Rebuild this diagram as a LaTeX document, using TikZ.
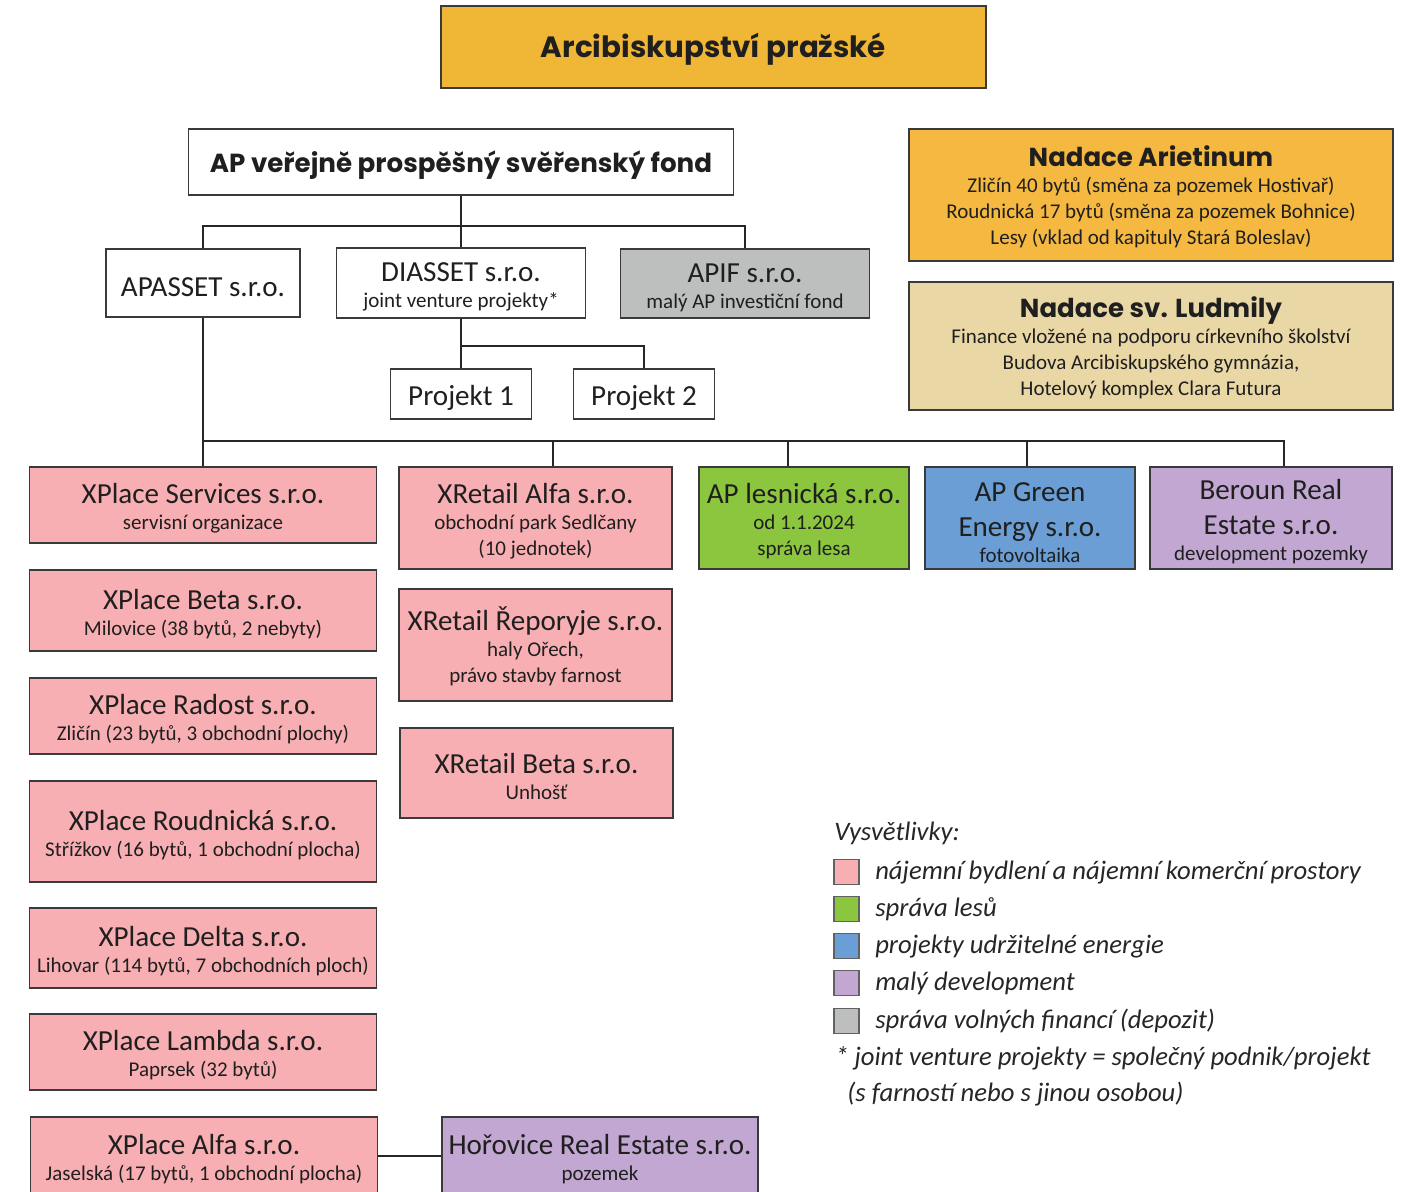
\documentclass[tikz,border=0pt]{standalone}
\usepackage{fontspec}
\setmainfont{Carlito}
\newfontfamily\headfont{Poppins}
\usetikzlibrary{positioning,calc}

\definecolor{arcifill}{HTML}{F0B635}
\definecolor{arietfill}{HTML}{F5B840}
\definecolor{ludfill}{HTML}{E9D8A6}
\definecolor{greyfill}{HTML}{BDBEBE}
\definecolor{pinkfill}{HTML}{F8AFB3}
\definecolor{greenfill}{HTML}{8CC63F}
\definecolor{bluefill}{HTML}{6A9ED5}
\definecolor{lilacfill}{HTML}{C1A7D1}
\definecolor{boxline}{HTML}{3A3A3A}

\newcommand\namesize{\fontsize{21.8}{26.25}\selectfont}
\newcommand\subsize{\fontsize{15.75}{19.5}\selectfont}
\newcommand\headsize[1]{\headfont\bfseries\fontsize{#1}{#1}\selectfont}
% first line of a box: company name with a fixed top
\newcommand\nm[1]{{\namesize\rule{0pt}{20.5pt}#1}}

\tikzset{
  box/.style={draw=boxline,line width=0.9pt,inner sep=0pt,align=center,
    font=\subsize,text=black!88},
  dims/.style 2 args={minimum width=#1*0.75pt,minimum height=#2*0.75pt},
  link/.style={draw=black!85,line width=1.5pt},
  key/.style={draw=boxline!80,line width=0.8pt,minimum size=18.75pt,inner sep=0pt},
  keytext/.style={anchor=base west,inner sep=0pt,
    font=\itshape\fontsize{20}{20}\selectfont,text=black!85}
}

\begin{document}
\begin{tikzpicture}[x=0.75pt,y=-0.75pt]
\clip (0,0) rectangle (1410,1192);

% top
\node[box,dims={545}{82},fill=arcifill,font=\headsize{22}] (arci) at (713.5,47)
  {\rule{0pt}{22pt}Arcibiskupství pražské};
\node[box,dims={545}{66},fill=white,font=\headsize{19.6}] (fond) at (461,162)
  {\rule{0pt}{20.5pt}AP veřejně prospěšný svěřenský fond};

% foundations
\node[box,dims={484}{132},fill=arietfill] (ariet) at (1151,195)
  {{\headsize{19.5}\rule{0pt}{19pt}Nadace Arietinum}\\[0pt]
   Zličín 40 bytů (směna za pozemek Hostivař)\\
   Roudnická 17 bytů (směna za pozemek Bohnice)\\
   Lesy (vklad od kapituly Stará Boleslav)};
\node[box,dims={484}{128},fill=ludfill] (ludmila) at (1151,346)
  {{\headsize{19.5}\rule{0pt}{19pt}Nadace sv. Ludmily}\\[0pt]
   Finance vložené na podporu církevního školství\\
   Budova Arcibiskupského gymnázia,\\
   Hotelový komplex Clara Futura};

% second level
\node[box,dims={194}{68},fill=white] (apasset) at (203,283) {\nm{APASSET s.r.o.}};
\node[box,dims={249}{70},fill=white] (diasset) at (461,283)
  {\nm{DIASSET s.r.o.}\\joint venture projekty*};
\node[box,dims={249}{69},fill=greyfill] (apif) at (745,283.5)
  {\nm{APIF s.r.o.}\\malý AP investiční fond};
\node[box,dims={141}{50},fill=white] (proj1) at (461,394) {\nm{Projekt 1}};
\node[box,dims={141}{50},fill=white] (proj2) at (644,394) {\nm{Projekt 2}};

% left column
\node[box,dims={347}{76},fill=pinkfill] (services) at (203,505)
  {\nm{XPlace Services s.r.o.}\\servisní organizace};
\node[box,dims={347}{81},fill=pinkfill] (xbeta) at (203,610.5)
  {\nm{XPlace Beta s.r.o.}\\Milovice (38 bytů, 2 nebyty)};
\node[box,dims={347}{76},fill=pinkfill] (radost) at (203,716)
  {\nm{XPlace Radost s.r.o.}\\Zličín (23 bytů, 3 obchodní plochy)};
\node[box,dims={347}{101},fill=pinkfill] (roudnicka) at (203,831.5)
  {\nm{XPlace Roudnická s.r.o.}\\Střížkov (16 bytů, 1 obchodní plocha)};
\node[box,dims={347}{80},fill=pinkfill] (delta) at (203,948)
  {\nm{XPlace Delta s.r.o.}\\Lihovar (114 bytů, 7 obchodních ploch)};
\node[box,dims={347}{76},fill=pinkfill] (lambda) at (203,1052)
  {\nm{XPlace Lambda s.r.o.}\\Paprsek (32 bytů)};
\node[box,dims={347}{78},fill=pinkfill] (xalfa) at (204,1156)
  {\nm{XPlace Alfa s.r.o.}\\Jaselská (17 bytů, 1 obchodní plocha)};
\node[box,dims={316}{78},fill=lilacfill] (horovice) at (600,1156)
  {\nm{Hořovice Real Estate s.r.o.}\\pozemek};

% middle column
\node[box,dims={273}{102},fill=pinkfill] (ralfa) at (535.5,518)
  {\nm{XRetail Alfa s.r.o.}\\obchodní park Sedlčany\\(10 jednotek)};
\node[box,dims={273}{112},fill=pinkfill] (reporyje) at (535.5,645)
  {\nm{XRetail Řeporyje s.r.o.}\\haly Ořech,\\právo stavby farnost};
\node[box,dims={273}{90},fill=pinkfill] (rbeta) at (536.5,773)
  {\nm{XRetail Beta s.r.o.}\\Unhošť};

% right row
\node[box,dims={210}{102},fill=greenfill] (lesnicka) at (804,518)
  {\nm{AP lesnická s.r.o.}\\od 1.1.2024\\správa lesa};
\node[box,dims={210}{102},fill=bluefill] (green) at (1030,518)
  {\nm{AP Green}\\[6.75pt]{\namesize Energy s.r.o.}\\fotovoltaika};
\node[box,dims={242}{102},fill=lilacfill] (beroun) at (1271,518)
  {\nm{Beroun Real}\\[6.75pt]{\namesize Estate s.r.o.}\\development pozemky};

% connectors
\coordinate (split) at (461,226);
\coordinate (jv) at (461,346);
\coordinate (bus) at (203,441);
\draw[link] (fond.south) -- (diasset.north);
\draw[link] (apasset.north) |- (split) -| (apif.north);
\draw[link] (diasset.south) -- (proj1.north);
\draw[link] (proj2.north) |- (jv);
\draw[link] (apasset.south) -- (services.north);
\draw[link] (bus) -| ($(beroun.north)+(13,0)$);
\foreach \n/\dx in {ralfa/17.5,lesnicka/-16,green/-3}
  \draw[link] ($(\n.north)+(\dx,0)$) |- (bus);
\draw[link] (xalfa) -- (horovice);

% legend
\node[keytext] (legtitle) at (834,840) {Vysvětlivky:};
\foreach \c/\y/\t [count=\i] in {
  pinkfill/879/nájemní bydlení a nájemní komerční prostory,
  greenfill/916/správa lesů,
  bluefill/953/projekty udržitelné energie,
  lilacfill/990/malý development,
  greyfill/1028/správa volných financí (depozit)}
{
  \node[key,fill=\c] (key\i) at (846.5,\y-7) {};
  \node[keytext] (keytext\i) at (875,\y) {\t};
}
\node[keytext] (note1) at (835,1065) {* joint venture projekty = společný podnik/projekt};
\node[keytext] (note2) at (847,1101) {(s farností nebo s jinou osobou)};

\end{tikzpicture}
\end{document}
